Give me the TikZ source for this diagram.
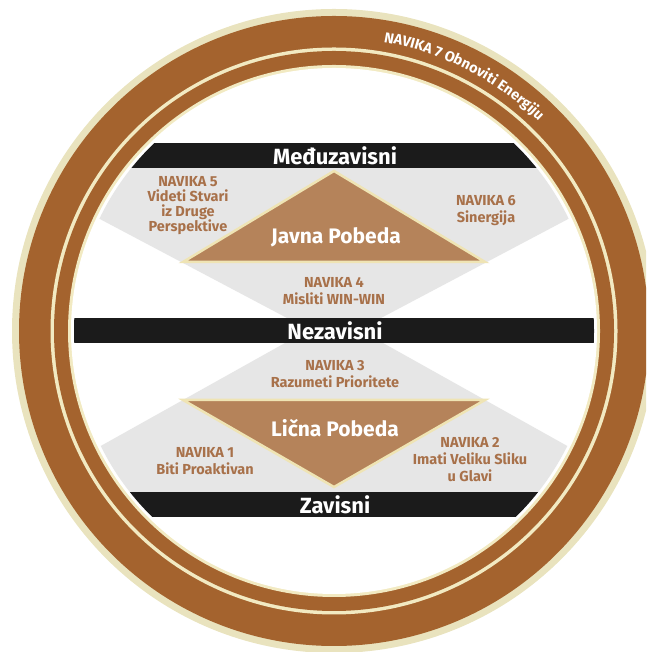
\documentclass[tikz,border=0pt]{standalone}
\usepackage{fontspec}
\setmainfont{Fira Sans}
\usetikzlibrary{decorations.text}
\definecolor{ringbrown}{HTML}{A4632E}
\definecolor{creamout}{HTML}{E9E3BE}
\definecolor{creamline}{HTML}{F2EAC2}
\definecolor{trifill}{HTML}{B5835A}
\definecolor{triedge}{HTML}{EFE4B4}
\definecolor{panelgray}{HTML}{E6E6E6}
\definecolor{habittext}{HTML}{A8714A}
\definecolor{barblack}{HTML}{1B1B1B}
\tikzset{
  barlabel/.style={text=white, font=\bfseries\fontsize{22}{22}\selectfont, inner sep=0pt},
  winlabel/.style={text=white, font=\bfseries\fontsize{21}{21}\selectfont, inner sep=0pt},
  habit/.style={text=habittext, align=center, font=\bfseries\fontsize{14.5}{17}\selectfont, inner sep=0pt},
  tri/.style={fill=trifill, draw=triedge, line width=2.5pt, line join=miter},
  bar/.style={fill=barblack}
}
\begin{document}
\begin{tikzpicture}[x=1pt,y=1pt]
\useasboundingbox (0,0) rectangle (646,652);
\clip (0,0) rectangle (646,652);
\coordinate (C) at (334,321);
% rings
\fill[creamout] (C) circle[radius=322];
\fill[ringbrown] (C) circle[radius=315];
\fill[creamline] (C) circle[radius=283.5];
\fill[ringbrown] (C) circle[radius=280];
\fill[creamline] (C) circle[radius=266];
\fill[white] (C) circle[radius=263];
% panels and bars
\begin{scope}
  \clip (C) circle[radius=260];
  \fill[panelgray] (287,334) -- (3.4,484) -- (664.6,484) -- (381,334) -- cycle;
  \fill[panelgray] (285,309) -- (18.4,160) -- (649.6,160) -- (383,309) -- cycle;
  \fill[bar] (0,484) rectangle (668,509);
  \fill[bar] (0,309) rectangle (668,334);
  \fill[bar] (0,135) rectangle (668,160);
\end{scope}
% triangles
\filldraw[tri] (183,390) -- (334,481) -- (485,390) -- cycle;
\filldraw[tri] (183,252) -- (334,165) -- (485,252) -- cycle;
% ring text
\path[decorate, decoration={text along path, text align=center,
  text={|\color{white}\bfseries\fontsize{14.5}{14.5}\selectfont|NAVIKA 7 Obnoviti Energiju}}]
  ([shift={(334,321)}]86:293) arc[start angle=86, end angle=40, radius=293];
% bar labels
\node[barlabel] (medju) at (335,496.5) {Međuzavisni};
\node[barlabel] (nez) at (335,321.5) {Nezavisni};
\node[barlabel] (zav) at (335,147.5) {Zavisni};
% victories
\node[winlabel] (javna) at (336,415) {Javna Pobeda};
\node[winlabel] (licna) at (335,224) {Lična Pobeda};
% habits
\node[habit, font=\bfseries\fontsize{14.5}{15}\selectfont] (n5) at (188,446.5) {NAVIKA 5\\Videti Stvari\\iz Druge\\Perspektive};
\node[habit] (n6) at (486,441) {NAVIKA 6\\Sinergija};
\node[habit] (n4) at (334,360.5) {NAVIKA 4\\Misliti WIN-WIN};
\node[habit] (n3) at (335,278) {NAVIKA 3\\Razumeti Prioritete};
\node[habit] (n1) at (205,190.5) {NAVIKA 1\\Biti Proaktivan};
\node[habit] (n2) at (470,192.5) {NAVIKA 2\\Imati Veliku Sliku\\u Glavi};
\end{tikzpicture}
\end{document}
